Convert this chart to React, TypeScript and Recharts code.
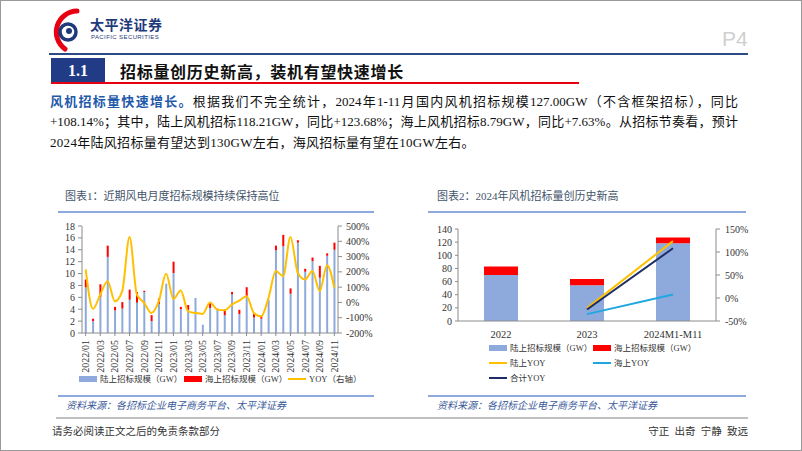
import React from 'react';
import { ComposedChart, Bar, Line, XAxis, YAxis } from 'recharts';

const months = [
  '2022/01','2022/02','2022/03','2022/04','2022/05','2022/06','2022/07','2022/08','2022/09','2022/10','2022/11','2022/12',
  '2023/01','2023/02','2023/03','2023/04','2023/05','2023/06','2023/07','2023/08','2023/09','2023/10','2023/11','2023/12',
  '2024/01','2024/02','2024/03','2024/04','2024/05','2024/06','2024/07','2024/08','2024/09','2024/10','2024/11',
];
const landMonthly = [7.7, 2.0, 6.1, 12.8, 3.8, 4.1, 5.6, 5.1, 6.9, 2.0, 4.9, 8.3, 10.1, 4.0, 3.9, 5.9, 1.4, 4.2, 3.9, 3.0, 6.5, 3.2, 6.0, 2.6, 2.4, 5.6, 13.9, 14.6, 6.6, 15.2, 10.3, 12.1, 9.3, 13.0, 14.0];
const seaMonthly = [1.3, 0.4, 2.1, 1.9, 0.6, 1.1, 1.7, 1.8, 0.2, 1.0, 0.9, 0, 1.9, 0.4, 0.8, 0, 0, 0.9, 0.2, 1.0, 0.4, 0.7, 1.7, 0.6, 0.5, 0, 0.8, 1.9, 0.9, 0.4, 0.5, 0.6, 2.0, 0.4, 1.2];
const yoyMonthly = [216, -42, 52, 139, 8, 74, 428, 52, -3, -69, 8, 187, 23, 78, -58, -69, -75, 0, -47, -51, -14, 12, 41, -69, -91, 30, 205, 172, 428, 194, 150, 205, 74, 244, 95];

const leftTicks1 = [0, 2, 4, 6, 8, 10, 12, 14, 16, 18];
const rightTicks1 = [-200, -100, 0, 100, 200, 300, 400, 500];

const years = ['2022', '2023', '2024M1-M11'];
const landYear = [70, 54.5, 118.21];
const seaYear = [13, 9.5, 8.79];
const landYoy = [null, -22, 123.68];
const seaYoy = [null, -35, 7.63];
const totalYoy = [null, -25, 108.14];
const leftTicks2 = [0, 20, 40, 60, 80, 100, 120, 140];
const rightTicks2 = [-50, 0, 50, 100, 150];

const data1 = months.map((m, i) => ({ m, land: landMonthly[i], sea: seaMonthly[i], yoy: yoyMonthly[i] }));
const data2 = years.map((y, i) => ({ y, land: landYear[i], sea: seaYear[i], ly: landYoy[i], sy: seaYoy[i], ty: totalYoy[i] }));

const SERIF = "'Liberation Serif', 'Noto Sans CJK SC', serif";
const BLUE = '#8EA9DB';
const RED = '#FF0000';
const GOLD = '#FFC000';
const CYAN = '#1FA7E1';
const NAVY = '#1F2D66';
const AXIS = '#8C8C8C';

const VTick = (props: any) => {
  const { x, y, payload } = props;
  return (
    <g transform={`translate(${x},${y + 2})`}>
      <text transform="rotate(-90)" textAnchor="end" dy={3.5} fontSize={10} fill="#333" fontFamily={SERIF}>
        {payload.value}
      </text>
    </g>
  );
};

const abs = (l: number, t: number, extra: any = {}) => ({ position: 'absolute' as const, left: l, top: t, ...extra });

const LegendItem = ({ l, t, kind, color, label }: any) => (
  <div style={abs(l, t, { display: 'flex', alignItems: 'center', fontSize: 8.5, color: '#333', fontFamily: SERIF, whiteSpace: 'nowrap', lineHeight: '12px' })}>
    {kind === 'rect' ? (
      <div style={{ width: 18, height: 6, background: color, marginRight: 3 }} />
    ) : (
      <div style={{ width: 18, height: 2, background: color, marginRight: 3 }} />
    )}
    <span>{label}</span>
  </div>
);

const tickStyle = { fontSize: 10, fill: '#333', fontFamily: SERIF };

export default function App() {
  return (
    <div style={{ position: 'absolute', left: 0, top: 0, width: 802, height: 451, background: '#fff', border: '1px solid #9a9a9a', boxSizing: 'border-box', fontFamily: SERIF, overflow: 'hidden' }}>
      {/* Logo */}
      <svg style={abs(46, 6)} width={40} height={46}>
        <path d="M 30 4 A 21 21 0 0 0 18 42" stroke="#E60012" strokeWidth={5} fill="none" strokeLinecap="round" />
        <circle cx={21} cy={25} r={8} stroke="#1F3A7A" strokeWidth={3.5} fill="none" />
        <circle cx={22} cy={24} r={3} fill="#1F3A7A" />
      </svg>
      <div style={abs(89, 14, { fontSize: 14, fontWeight: 700, color: '#1F3A7A', fontFamily: "'Noto Sans CJK SC', sans-serif", letterSpacing: 0.5, lineHeight: '18px' })}>太平洋证券</div>
      <div style={abs(90, 33, { fontSize: 6, color: '#1F3A7A', fontFamily: "'Liberation Sans', sans-serif", letterSpacing: 0.4, lineHeight: '7px' })}>PACIFIC SECURITIES</div>
      <div style={abs(721, 26, { fontSize: 21, color: '#cfcfcf', fontFamily: "'Liberation Sans', sans-serif", lineHeight: '24px' })}>P4</div>
      <div style={abs(48, 52, { width: 699, height: 2, background: '#2E4A85' })} />

      {/* Section header */}
      <div style={abs(50, 57, { width: 54, height: 25, background: '#213B86', color: '#fff', fontSize: 16, fontWeight: 700, textAlign: 'center', lineHeight: '25px' })}>1.1</div>
      <div style={abs(119, 59, { fontSize: 16, fontWeight: 700, color: '#111', letterSpacing: 0.7, lineHeight: '22px', fontFamily: "'Noto Sans CJK SC', sans-serif" })}>招标量创历史新高，装机有望快速增长</div>
      <div style={abs(50, 81, { width: 528, height: 2, background: '#E60012' })} />

      {/* Paragraph */}
      <div style={abs(49, 92, { width: 688, fontSize: 13, lineHeight: '17px', color: '#111', textAlign: 'justify', textAlignLast: 'justify', whiteSpace: 'nowrap' })}>
        <span style={{ color: '#1F5AAA', fontWeight: 700 }}>风机招标量快速增长。</span>根据我们不完全统计，2024年1-11月国内风机招标规模127.00GW（不含框架招标），同比
      </div>
      <div style={abs(49, 112, { width: 688, fontSize: 13, lineHeight: '17px', color: '#111', textAlign: 'justify', textAlignLast: 'justify', whiteSpace: 'nowrap' })}>
        +108.14%；其中，陆上风机招标118.21GW，同比+123.68%；海上风机招标8.79GW，同比+7.63%。从招标节奏看，预计
      </div>
      <div style={abs(49, 133, { fontSize: 13, lineHeight: '17px', color: '#111', whiteSpace: 'nowrap', letterSpacing: 0.3 })}>
        2024年陆风招标量有望达到130GW左右，海风招标量有望在10GW左右。
      </div>

      {/* Chart titles */}
      <div style={abs(64, 188, { fontSize: 11, color: '#44546A', lineHeight: '15px', whiteSpace: 'nowrap' })}>图表1：近期风电月度招标规模持续保持高位</div>
      <div style={abs(57, 210, { width: 316, height: 1.5, background: '#8EA9DB' })} />
      <div style={abs(436, 188, { fontSize: 11, color: '#44546A', lineHeight: '15px', whiteSpace: 'nowrap' })}>图表2：2024年风机招标量创历史新高</div>
      <div style={abs(427, 210, { width: 318, height: 1.5, background: '#8EA9DB' })} />

      {/* Chart 1 */}
      <div style={abs(40, 215)}>
        <ComposedChart width={340} height={160} data={data1} margin={{ top: 10, right: 0, bottom: 0, left: 0 }} barCategoryGap="38%">
          <XAxis dataKey="m" interval={1} height={43} tick={<VTick />} tickLine={{ stroke: AXIS }} axisLine={{ stroke: AXIS }} tickSize={3} />
          <YAxis yAxisId="l" width={41} domain={[0, 18]} ticks={leftTicks1} interval={0} tick={tickStyle} tickSize={4} tickMargin={3} axisLine={{ stroke: AXIS }} tickLine={{ stroke: AXIS }} />
          <YAxis yAxisId="r" orientation="right" width={43} domain={[-200, 500]} ticks={rightTicks1} interval={0} tickFormatter={(v: number) => `${v}%`} tick={tickStyle} tickSize={4} tickMargin={4} axisLine={{ stroke: AXIS }} tickLine={{ stroke: AXIS }} />
          <Bar yAxisId="l" dataKey="land" stackId="a" fill={BLUE} isAnimationActive={false} />
          <Bar yAxisId="l" dataKey="sea" stackId="a" fill={RED} isAnimationActive={false} />
          <Line yAxisId="r" dataKey="yoy" type="monotone" stroke={GOLD} strokeWidth={2} dot={false} isAnimationActive={false} />
        </ComposedChart>
      </div>
      <LegendItem l={78} t={372} kind="rect" color={BLUE} label="陆上招标规模（GW）" />
      <LegendItem l={183} t={372} kind="rect" color={RED} label="海上招标规模（GW）" />
      <LegendItem l={287} t={372} kind="line" color={GOLD} label="YOY（右轴）" />

      {/* Chart 2 */}
      <div style={abs(420, 215)}>
        <ComposedChart width={340} height={130} data={data2} margin={{ top: 13, right: 0, bottom: 0, left: 0 }}>
          <XAxis dataKey="y" height={25} tick={{ fontSize: 10.5, fill: '#333', fontFamily: SERIF }} tickLine={false} axisLine={{ stroke: AXIS }} tickMargin={4} />
          <YAxis yAxisId="l" width={37} domain={[0, 140]} ticks={leftTicks2} interval={0} tick={tickStyle} tickSize={3} tickMargin={3} axisLine={{ stroke: AXIS }} tickLine={{ stroke: AXIS }} />
          <YAxis yAxisId="r" orientation="right" width={45} domain={[-50, 150]} ticks={rightTicks2} interval={0} tickFormatter={(v: number) => `${v}%`} tick={tickStyle} tickSize={4} tickMargin={5} axisLine={{ stroke: AXIS }} tickLine={{ stroke: AXIS }} />
          <Bar yAxisId="l" dataKey="land" stackId="a" fill={BLUE} barSize={34} isAnimationActive={false} />
          <Bar yAxisId="l" dataKey="sea" stackId="a" fill={RED} barSize={34} isAnimationActive={false} />
          <Line yAxisId="r" dataKey="ly" type="linear" stroke={GOLD} strokeWidth={2} dot={false} isAnimationActive={false} />
          <Line yAxisId="r" dataKey="sy" type="linear" stroke={CYAN} strokeWidth={2} dot={false} isAnimationActive={false} />
          <Line yAxisId="r" dataKey="ty" type="linear" stroke={NAVY} strokeWidth={2} dot={false} isAnimationActive={false} />
        </ComposedChart>
      </div>
      <LegendItem l={488} t={341} kind="rect" color={BLUE} label="陆上招标规模（GW）" />
      <LegendItem l={592} t={341} kind="rect" color={RED} label="海上招标规模（GW）" />
      <LegendItem l={488} t={356} kind="line" color={GOLD} label="陆上YOY" />
      <LegendItem l={592} t={356} kind="line" color={CYAN} label="海上YOY" />
      <LegendItem l={488} t={371} kind="line" color={NAVY} label="合计YOY" />

      {/* Sources */}
      <div style={abs(57, 394, { width: 316, height: 1.5, background: '#8EA9DB' })} />
      <div style={abs(427, 394, { width: 318, height: 1.5, background: '#8EA9DB' })} />
      <div style={abs(65, 398, { fontSize: 10, fontStyle: 'italic', color: '#3B5A9A', lineHeight: '14px', whiteSpace: 'nowrap' })}>资料来源：各招标企业电子商务平台、太平洋证券</div>
      <div style={abs(436, 398, { fontSize: 10, fontStyle: 'italic', color: '#3B5A9A', lineHeight: '14px', whiteSpace: 'nowrap' })}>资料来源：各招标企业电子商务平台、太平洋证券</div>
      <div style={abs(55, 416, { width: 692, height: 2, background: '#C0C0C0' })} />

      {/* Footer */}
      <div style={abs(51, 423, { fontSize: 10.5, color: '#333', lineHeight: '15px', whiteSpace: 'nowrap' })}>请务必阅读正文之后的免责条款部分</div>
      <div style={abs(600, 423, { width: 147, textAlign: 'right', fontSize: 10.5, color: '#333', lineHeight: '15px', whiteSpace: 'pre' })}>{'守正  出奇  宁静  致远'}</div>
    </div>
  );
}
